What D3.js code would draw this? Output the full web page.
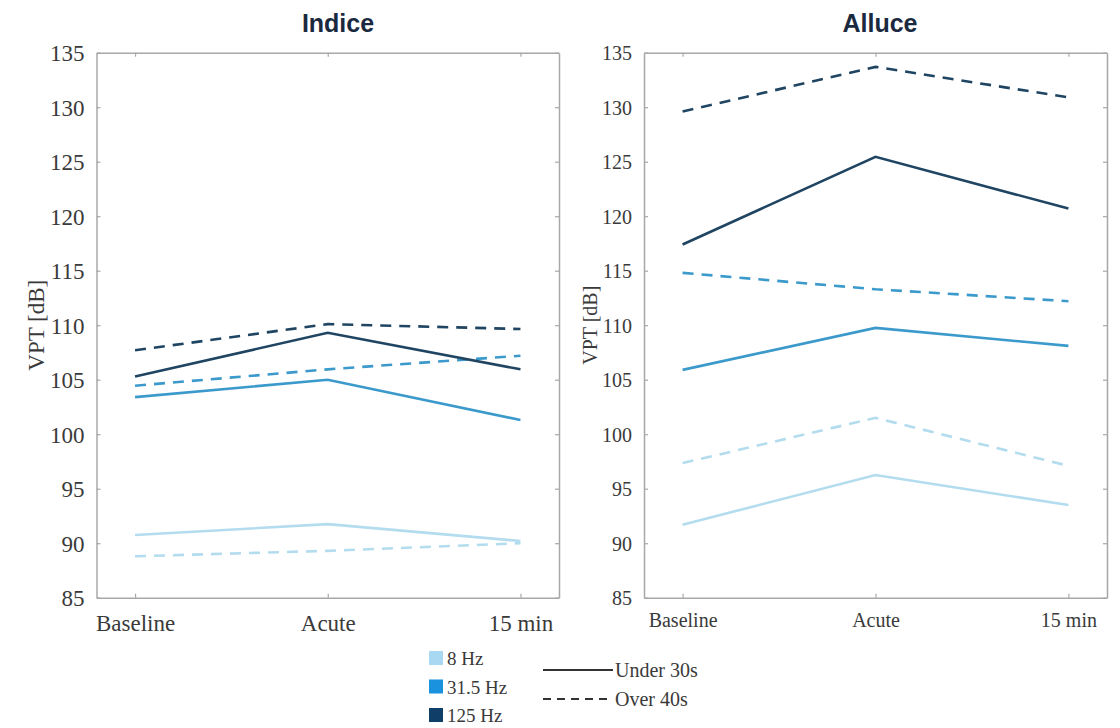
<!DOCTYPE html>
<html>
<head>
<meta charset="utf-8">
<script src="https://cdn.jsdelivr.net/npm/d3@7"></script>
<style>
  html, body { margin: 0; padding: 0; background: #fff; }
  svg { display: block; }
</style>
</head>
<body>
<svg id="chart" width="1120" height="728"></svg>
<script>
const categories = ["Baseline", "Acute", "15 min"];
const yTicks = [85, 90, 95, 100, 105, 110, 115, 120, 125, 130, 135];
const frequencies = ["8 Hz", "31.5 Hz", "125 Hz"];
const groups = ["Under 30s", "Over 40s"];
const panelTitles = ["Indice", "Alluce"];

// Indice
const indice_8_under   = [90.75, 91.75, 90.2];
const indice_8_over    = [88.8, 89.3, 90.0];
const indice_31_under  = [103.4, 105.0, 101.3];
const indice_31_over   = [104.45, 105.95, 107.2];
const indice_125_under = [105.3, 109.3, 105.95];
const indice_125_over  = [107.7, 110.1, 109.65];

// Alluce
const alluce_8_under   = [91.7, 96.25, 93.5];
const alluce_8_over    = [97.35, 101.5, 97.1];
const alluce_31_under  = [105.9, 109.75, 108.1];
const alluce_31_over   = [114.8, 113.3, 112.2];
const alluce_125_under = [117.4, 125.45, 120.7];
const alluce_125_over  = [129.6, 133.7, 130.9];

const lineColors = { "8 Hz": "#b3dcee", "31.5 Hz": "#3b9acb", "125 Hz": "#1f4562" };
const legendColors = { "8 Hz": "#a9d8f2", "31.5 Hz": "#1b92de", "125 Hz": "#0f3f68" };

const panels = [
  {
    title: panelTitles[0], x0: 96.5, x1: 559, titleX: 338, fs: 23, axisLabelX: 44,
    series: [
      { f: "8 Hz", g: "Under 30s", v: indice_8_under },
      { f: "8 Hz", g: "Over 40s", v: indice_8_over },
      { f: "31.5 Hz", g: "Under 30s", v: indice_31_under },
      { f: "31.5 Hz", g: "Over 40s", v: indice_31_over },
      { f: "125 Hz", g: "Under 30s", v: indice_125_under },
      { f: "125 Hz", g: "Over 40s", v: indice_125_over }
    ]
  },
  {
    title: panelTitles[1], x0: 644, x1: 1107, titleX: 880, fs: 20, axisLabelX: 597,
    series: [
      { f: "8 Hz", g: "Under 30s", v: alluce_8_under },
      { f: "8 Hz", g: "Over 40s", v: alluce_8_over },
      { f: "31.5 Hz", g: "Under 30s", v: alluce_31_under },
      { f: "31.5 Hz", g: "Over 40s", v: alluce_31_over },
      { f: "125 Hz", g: "Under 30s", v: alluce_125_under },
      { f: "125 Hz", g: "Over 40s", v: alluce_125_over }
    ]
  }
];

const svg = d3.select("#chart");
const yTop = 52.7, yBottom = 597.7;
const serif = "'Liberation Serif', 'Times New Roman', serif";
const axisColor = "#a8a8a8";
const textColor = "#3a3a3a";

panels.forEach(p => {
  const x = d3.scalePoint().domain(categories).range([p.x0, p.x1]).padding(0.2);
  const y = d3.scaleLinear().domain([85, 135]).range([yBottom, yTop]);
  const g = svg.append("g");

  // title
  g.append("text")
    .attr("x", p.titleX).attr("y", 32)
    .attr("text-anchor", "middle")
    .attr("font-family", "'Liberation Sans', Arial, sans-serif")
    .attr("font-weight", "bold")
    .attr("font-size", 25)
    .attr("fill", "#1b2940")
    .text(p.title);

  const tickLen = 4;
  const styleAxis = (sel, fs, showLabels) => {
    sel.select(".domain").attr("stroke", axisColor).attr("stroke-width", 1.5);
    sel.selectAll(".tick line").attr("stroke", axisColor).attr("stroke-width", 1.2);
    sel.selectAll(".tick text")
      .attr("font-family", serif).attr("font-size", fs).attr("fill", textColor)
      .style("display", showLabels ? null : "none");
  };

  const bottom = g.append("g").attr("transform", `translate(0,${yBottom})`)
    .call(d3.axisBottom(x).tickSizeInner(-tickLen).tickSizeOuter(0).tickPadding(p.fs > 21 ? 17 : 15));
  styleAxis(bottom, p.fs, true);

  const top = g.append("g").attr("transform", `translate(0,${yTop})`)
    .call(d3.axisTop(x).tickSizeInner(-tickLen).tickSizeOuter(0));
  styleAxis(top, p.fs, false);

  const left = g.append("g").attr("transform", `translate(${p.x0},0)`)
    .call(d3.axisLeft(y).tickValues(yTicks).tickSizeInner(-tickLen).tickSizeOuter(0).tickPadding(12));
  styleAxis(left, p.fs, true);
  left.selectAll(".tick text").attr("dy", "0.35em");

  const right = g.append("g").attr("transform", `translate(${p.x1},0)`)
    .call(d3.axisRight(y).tickValues(yTicks).tickSizeInner(-tickLen).tickSizeOuter(0));
  styleAxis(right, p.fs, false);

  g.append("text")
    .attr("transform", `translate(${p.axisLabelX},${(yTop + yBottom) / 2}) rotate(-90)`)
    .attr("text-anchor", "middle")
    .attr("font-family", serif).attr("font-size", p.fs).attr("fill", textColor)
    .text("VPT [dB]");

  const line = d3.line().x((d, i) => x(categories[i])).y(d => y(d));
  p.series.forEach(s => {
    g.append("path")
      .datum(s.v)
      .attr("d", line)
      .attr("fill", "none")
      .attr("stroke", lineColors[s.f])
      .attr("stroke-width", 2.6)
      .attr("stroke-dasharray", s.g === "Over 40s" ? "11,8" : null);
  });
});

// legend: frequencies
const legF = svg.append("g");
const legY = d3.scalePoint().domain(frequencies).range([658, 715]);
frequencies.forEach(f => {
  legF.append("rect")
    .attr("x", 429).attr("y", legY(f) - 7).attr("width", 14).attr("height", 14)
    .attr("fill", legendColors[f]);
  legF.append("text")
    .attr("x", 447).attr("y", legY(f) + 7)
    .attr("font-family", serif).attr("font-size", 19).attr("fill", textColor)
    .text(f);
});

// legend: groups
const legG = svg.append("g");
const legGY = d3.scalePoint().domain(groups).range([670, 699]);
groups.forEach(gname => {
  legG.append("line")
    .attr("x1", 543).attr("x2", 613)
    .attr("y1", legGY(gname)).attr("y2", legGY(gname))
    .attr("stroke", "#333").attr("stroke-width", 2)
    .attr("stroke-dasharray", gname === "Over 40s" ? "8,6" : null);
  legG.append("text")
    .attr("x", 615).attr("y", legGY(gname) + 7)
    .attr("font-family", serif).attr("font-size", 20).attr("fill", textColor)
    .text(gname);
});
</script>
</body>
</html>
